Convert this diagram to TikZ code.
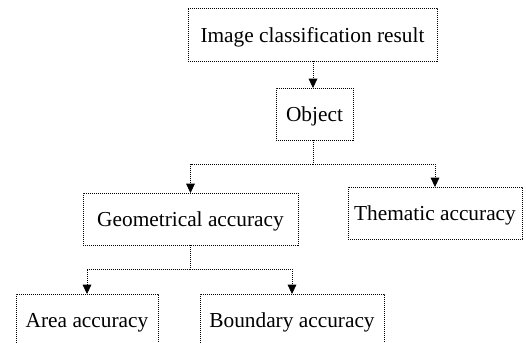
\documentclass[tikz,border=0pt]{standalone}
\usepackage{fontspec}
\setmainfont{Liberation Serif}
\usetikzlibrary{arrows.meta}

\tikzset{
  box/.style={draw, dash pattern={on 0.9pt off 0.6pt}, line width=0.6pt, inner sep=0pt, outer sep=0pt,
    minimum height=39pt, text height=11.8pt, text depth=0pt, font=\fontsize{16}{19}\selectfont},
  conn/.style={dash pattern={on 0.9pt off 0.6pt}, line width=0.6pt, -{Triangle[width=6.5pt,length=7pt]}},
}

\begin{document}
\begin{tikzpicture}[x=0.75pt,y=0.75pt,yscale=-1,xscale=1]
\useasboundingbox (0,0) rectangle (526,343);

% Boxes
\draw (312.5,34.5) node [box, minimum width=186.75pt, minimum height=39.75pt] (result) {Image classification result};
\draw (314.5,114) node [box, minimum width=57.75pt] (object) {Object};
\draw (190.5,219) node [box, minimum width=161.25pt] (geometric) {Geometrical accuracy};
\draw (435,213) node [box, minimum width=130.5pt] (thematic) {Thematic accuracy};
\draw (87,320) node [box, minimum width=106.5pt] (area) {Area accuracy};
\draw (292,320) node [box, minimum width=138pt] (boundary) {Boundary accuracy};

% Junctions
\coordinate (split1) at (313,164);
\coordinate (split2) at (190,269);

% Connectors
\draw [conn] (result.south -| split1) -- (object.north -| split1);
\draw [dash pattern={on 0.9pt off 0.6pt}, line width=0.6pt] (object.south -| split1) -- (split1);
\draw [conn] (split1) -| (geometric.north);
\draw [conn] (split1) -| (thematic.north);
\draw [dash pattern={on 0.9pt off 0.6pt}, line width=0.6pt] (geometric.south -| split2) -- (split2);
\draw [conn] (split2) -| (area.north);
\draw [conn] (split2) -| (boundary.north);

\end{tikzpicture}
\end{document}
